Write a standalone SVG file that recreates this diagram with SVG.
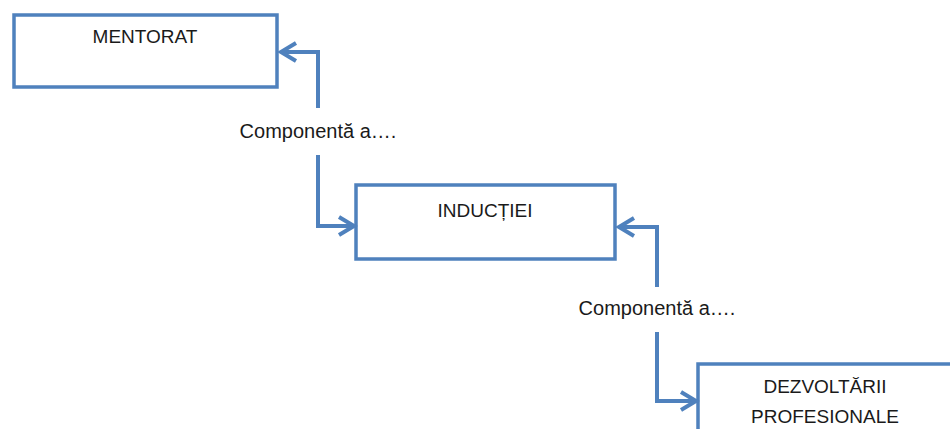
<svg xmlns="http://www.w3.org/2000/svg" width="950" height="429" viewBox="0 0 950 429">
<style>
.box{fill:#ffffff;stroke:#4F81BD;stroke-width:3.5}
.lbl{font-family:"Liberation Sans",Arial,sans-serif;font-size:19px;fill:#1a1a1a;text-anchor:middle}
.cl{font-size:20px}
.con{fill:none;stroke:#4F81BD;stroke-width:4}
</style>
<defs>
<marker id="ah" markerUnits="userSpaceOnUse" markerWidth="24" markerHeight="24" viewBox="-18 -12 22 24" refX="0" refY="0" orient="auto">
<path d="M-15,-9 L0,0 L-15,9" fill="none" stroke="#4F81BD" stroke-width="4" stroke-linejoin="miter"/>
</marker>
</defs>
<rect width="950" height="429" fill="#ffffff"/>
<g id="mentorat">
<rect class="box" x="14" y="15" width="263" height="72"/>
<text class="lbl" x="145" y="43">MENTORAT</text>
</g>
<g id="inductiei">
<rect class="box" x="356" y="185" width="259" height="74"/>
<text class="lbl" x="485" y="217">INDUCȚIEI</text>
</g>
<g id="dezvoltarii">
<rect class="box" x="698" y="364" width="300" height="100"/>
<text class="lbl" x="825" y="393">DEZVOLTĂRII</text>
<text class="lbl" x="825" y="423">PROFESIONALE</text>
</g>
<g id="connectors">
<path class="con" d="M318,108 L318,52 L281,52" marker-end="url(#ah)"/>
<path class="con" d="M318,155 L318,226 L354,226" marker-end="url(#ah)"/>
<text class="lbl cl" x="318" y="138">Componentă a….</text>
<path class="con" d="M657,287 L657,227 L619,227" marker-end="url(#ah)"/>
<path class="con" d="M657,332 L657,401 L696,401" marker-end="url(#ah)"/>
<text class="lbl cl" x="657" y="315">Componentă a….</text>
</g>
</svg>
